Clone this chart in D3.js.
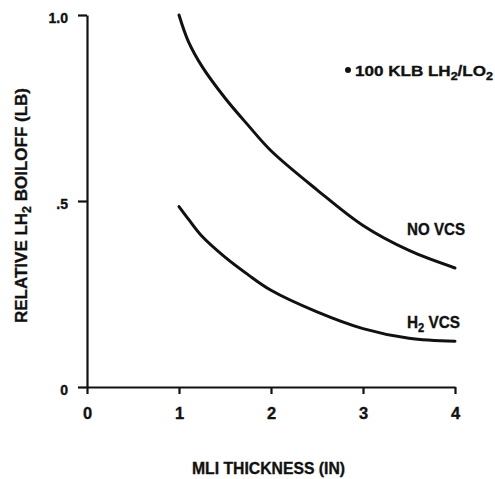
<!DOCTYPE html>
<html>
<head>
<meta charset="utf-8">
<script src="https://cdn.jsdelivr.net/npm/d3@7"></script>
<style>
  body { margin: 0; background: #fff; }
  svg text { font-family: "Liberation Sans", Arial, sans-serif; font-weight: bold; fill: #111; stroke: #111; stroke-width: 0.35; }
</style>
</head>
<body>
<svg id="chart" width="495" height="479"></svg>
<script>
// MLI thickness (in) vs relative LH2 boiloff
const xTicks = [0, 1, 2, 3, 4];
const yTicks = [0, 0.5, 1.0];
const yTickLabels = ["0", ".5", "1.0"];
const thickness = [1, 1.1, 1.25, 1.5, 1.75, 2, 2.5, 3, 3.5, 4];
const noVcs = [1.0, 0.93, 0.862, 0.777, 0.704, 0.635, 0.53, 0.434, 0.367, 0.32];
const h2Vcs = [0.485, 0.452, 0.405, 0.349, 0.302, 0.26, 0.202, 0.157, 0.131, 0.123];

const svg = d3.select("#chart");
const x = d3.scaleLinear().domain([0, 4]).range([87, 455]);
const y = d3.scaleLinear().domain([0, 1]).range([387, 15]);

// axes
const xAxis = svg.append("g").attr("transform", `translate(0,${y(0)})`)
    .call(d3.axisBottom(x).tickValues(xTicks).tickSize(7).tickSizeOuter(0).tickFormat(d3.format("d")));
const yAxis = svg.append("g").attr("transform", `translate(${x(0)},0)`)
    .call(d3.axisLeft(y).tickValues(yTicks).tickSize(9).tickSizeOuter(0).tickFormat((d, i) => yTickLabels[i]));

[xAxis, yAxis].forEach(g => {
    g.select(".domain").attr("stroke", "#111").attr("stroke-width", 2.2);
    g.selectAll(".tick line").attr("stroke", "#111").attr("stroke-width", 2.2);
    g.selectAll(".tick text").attr("fill", "#111").attr("font-family", null);
});
xAxis.selectAll(".tick text").attr("font-size", 16.5).attr("y", 20).attr("dy", "0.71em");
yAxis.selectAll(".tick text").attr("font-size", 14).attr("x", -19).attr("dy", "0.55em");
// extend x axis slightly left of origin
xAxis.append("line").attr("x1", -7).attr("x2", 0).attr("stroke", "#111").attr("stroke-width", 2.2);

// curves
const line = d3.line().x(d => x(d[0])).y(d => y(d[1])).curve(d3.curveCatmullRom.alpha(0.5));
[noVcs, h2Vcs].forEach(vals => {
    svg.append("path")
        .datum(thickness.map((t, i) => [t, vals[i]]))
        .attr("fill", "none").attr("stroke", "#111").attr("stroke-width", 3).attr("stroke-linecap", "round")
        .attr("d", line);
});

// curve labels
svg.append("text").attr("x", 407).attr("y", 235).attr("font-size", 16.5)
    .attr("textLength", 58).attr("lengthAdjust", "spacingAndGlyphs").text("NO VCS");
const h2 = svg.append("text").attr("x", 407).attr("y", 328).attr("font-size", 16.5)
    .attr("textLength", 53).attr("lengthAdjust", "spacingAndGlyphs");
h2.append("tspan").text("H");
h2.append("tspan").attr("font-size", 12).attr("dy", 4).text("2");
h2.append("tspan").attr("dy", -4).text(" VCS");

// note
svg.append("circle").attr("cx", 348).attr("cy", 70).attr("r", 3).attr("fill", "#111");
const note = svg.append("text").attr("x", 355).attr("y", 76).attr("font-size", 15)
    .attr("textLength", 138).attr("lengthAdjust", "spacingAndGlyphs");
note.append("tspan").text("100 KLB LH");
note.append("tspan").attr("font-size", 11).attr("dy", 4).text("2");
note.append("tspan").attr("dy", -4).text("/LO");
note.append("tspan").attr("font-size", 11).attr("dy", 4).text("2");

// axis titles
svg.append("text").attr("x", 192).attr("y", 474).attr("font-size", 16.5)
    .attr("textLength", 153).attr("lengthAdjust", "spacingAndGlyphs")
    .text("MLI THICKNESS (IN)");
const yt = svg.append("text").attr("transform", "translate(27,323) rotate(-90)")
    .attr("font-size", 16.5).attr("textLength", 235).attr("lengthAdjust", "spacingAndGlyphs");
yt.append("tspan").text("RELATIVE LH");
yt.append("tspan").attr("font-size", 12).attr("dy", 4).text("2");
yt.append("tspan").attr("dy", -4).text(" BOILOFF (LB)");
</script>
</body>
</html>
